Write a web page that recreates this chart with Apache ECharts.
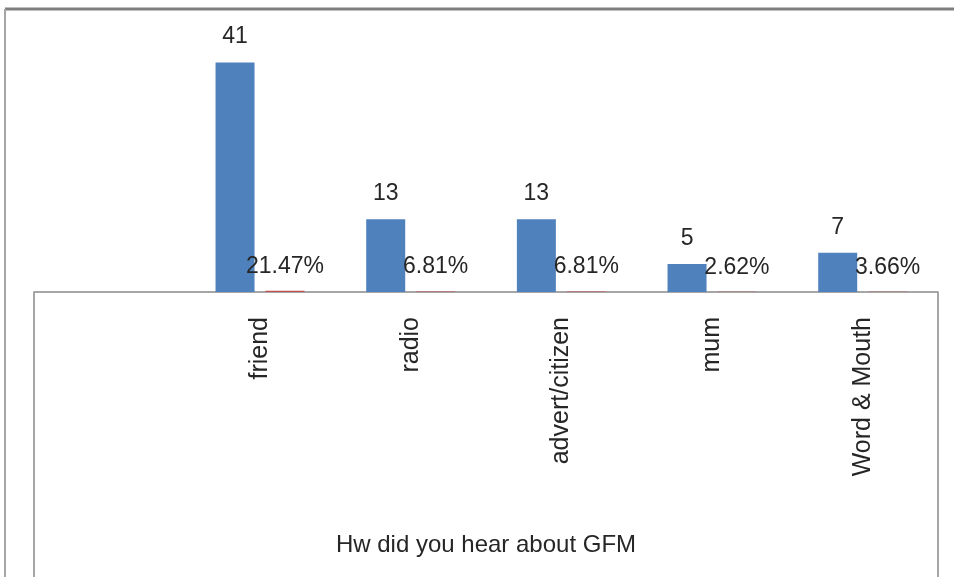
<!DOCTYPE html>
<html>
<head>
<meta charset="utf-8">
<script src="https://cdn.jsdelivr.net/npm/echarts@6/dist/echarts.min.js"></script>
<style>
html,body{margin:0;padding:0;background:#fff;}
#chart{width:954px;height:577px;}
</style>
</head>
<body>
<div id="chart"></div>
<script>
var categories = ['', 'friend', 'radio', 'advert/citizen', 'mum', 'Word & Mouth'];
var counts = [null, 41, 13, 13, 5, 7];
var shares = [null, 0.2147, 0.0681, 0.0681, 0.0262, 0.0366];
var axisTitle = 'Hw did you hear about GFM';

var FONT = 'Liberation Sans, Arial, sans-serif';
var chart = echarts.init(document.getElementById('chart'), null, {renderer: 'canvas'});
chart.setOption({
  animation: false,
  backgroundColor: '#ffffff',
  grid: {left: 34, right: 16, top: 12, bottom: 285, containLabel: false},
  xAxis: {
    type: 'category',
    data: categories,
    axisLine: {show: true, lineStyle: {color: '#a6a6a6', width: 2}},
    axisTick: {show: false},
    splitLine: {show: false},
    axisLabel: {interval: 0, rotate: 90, margin: 25, fontSize: 25, color: '#262626', fontFamily: FONT},
    name: axisTitle,
    nameLocation: 'middle',
    nameGap: 241,
    nameTextStyle: {fontSize: 24, color: '#262626', fontFamily: FONT}
  },
  yAxis: {type: 'value', min: 0, max: 50, show: false, splitLine: {show: false}},
  series: [
    {
      type: 'bar', data: counts, barWidth: 39, barGap: '28%',
      itemStyle: {color: '#4f81bd'},
      label: {show: true, position: 'top', distance: 14, fontSize: 23, color: '#262626', fontFamily: FONT}
    },
    {
      type: 'bar', data: shares, barWidth: 39,
      itemStyle: {color: '#c0504d'},
      label: {show: true, position: 'top', distance: 13, fontSize: 23, color: '#262626', fontFamily: FONT,
        formatter: function (p) { return (p.value * 100).toFixed(2) + '%'; }}
    }
  ],
  graphic: [
    {type: 'line', shape: {x1: 5, y1: 9, x2: 954, y2: 9}, style: {stroke: '#7f7f7f', lineWidth: 3}},
    {type: 'line', shape: {x1: 5, y1: 9, x2: 5, y2: 577}, style: {stroke: '#a6a6a6', lineWidth: 2}},
    {type: 'line', shape: {x1: 34, y1: 292, x2: 34, y2: 577}, style: {stroke: '#a6a6a6', lineWidth: 2}},
    {type: 'line', shape: {x1: 938, y1: 292, x2: 938, y2: 577}, style: {stroke: '#a6a6a6', lineWidth: 2}}
  ]
});
</script>
</body>
</html>
